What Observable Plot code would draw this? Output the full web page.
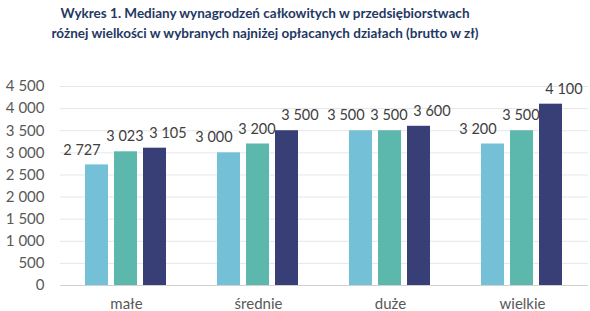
<!DOCTYPE html>
<html>
<head>
<meta charset="utf-8">
<script src="https://cdn.jsdelivr.net/npm/d3@7"></script>
<script src="https://cdn.jsdelivr.net/npm/@observablehq/plot@0.6"></script>
<style>
  html, body { margin: 0; padding: 0; background: #fff; overflow: hidden; }
  #title { width: 530px; height: 46px; box-sizing: border-box; padding-top: 3px;
    text-align: center; font-family: Lato, sans-serif; font-weight: 700; font-size: 13.5px;
    line-height: 20px; color: #1F3864; }
  svg { display: block; }
</style>
</head>
<body>
<div id="title">Wykres 1. Mediany wynagrodzeń całkowitych w przedsiębiorstwach<br>różnej wielkości w wybranych najniżej opłacanych działach (brutto w zł)</div>
<div id="chart"></div>
<script>
const categories = ["małe", "średnie", "duże", "wielkie"];
const series = ["seria 1", "seria 2", "seria 3"];
const values1 = [2727, 3000, 3500, 3200];
const values2 = [3023, 3200, 3500, 3500];
const values3 = [3105, 3500, 3600, 4100];
const yTicks = [0, 500, 1000, 1500, 2000, 2500, 3000, 3500, 4000, 4500];

const colors = ["#74C0D6", "#5CB7AC", "#383E76"];
const allValues = [values1, values2, values3];
const data = [];
categories.forEach((c, i) => series.forEach((s, j) => data.push({cat: c, series: s, value: allValues[j][i]})));

const loc = d3.formatLocale({decimal: ",", thousands: "\u00a0", grouping: [3], currency: ["", ""]});
const fmt = loc.format(",d");

const labelDx = [-15, -1, 13];
const textMarks = series.map((s, j) => Plot.text(data.filter(d => d.series === s), {
  fx: "cat", x: "series", y: "value", text: d => fmt(d.value), dy: -15, dx: labelDx[j],
  fill: "#404040", fontSize: 14.5
}));

const chart = Plot.plot({
  width: 590, height: 265,
  marginTop: 40, marginBottom: 26, marginLeft: 59, marginRight: 2,
  style: {fontFamily: "Lato, sans-serif", fontSize: "15px", color: "#595959", background: "#fff"},
  fx: {domain: categories, padding: 0, label: null},
  x: {domain: series, paddingInner: 0.19, paddingOuter: 0.87, axis: null},
  y: {domain: [0, 4500], label: null},
  color: {domain: series, range: colors},
  marks: [
    Plot.gridY(yTicks, {stroke: "#e6e6e6", strokeOpacity: 1}),
    Plot.axisY(yTicks, {anchor: "left", tickSize: 0, tickPadding: 16, tickFormat: fmt, label: null, fill: "#595959"}),
    Plot.axisFx({anchor: "bottom", tickSize: 0, tickPadding: 13, label: null, fill: "#595959"}),
    Plot.barY(data, {fx: "cat", x: "series", y: "value", fill: "series"}),
    Plot.ruleY([0], {stroke: "#d0d0d0"}),
    ...textMarks
  ]
});
document.getElementById("chart").append(chart);
</script>
</body>
</html>
